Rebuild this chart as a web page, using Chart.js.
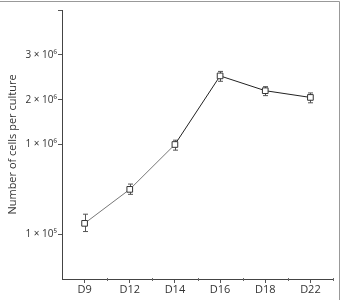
<!DOCTYPE html>
<html>
<head>
<meta charset="utf-8">
<script src="https://cdn.jsdelivr.net/npm/chart.js@4/dist/chart.umd.min.js"></script>
<style>
  html, body { margin: 0; padding: 0; background: #fff; }
  #wrap { width: 344px; height: 300px; }
</style>
</head>
<body>
<div id="wrap"><canvas id="myChart" width="344" height="300"></canvas></div>
<script>
const days = ['D9', 'D12', 'D14', 'D16', 'D18', 'D22'];
const cells = [1.32e5, 3.16e5, 1.0e6, 2.53e6, 2.2e6, 2.05e6];
const cellsLow = [1.07e5, 2.78e5, 8.65e5, 2.41e6, 2.09e6, 1.93e6];
const cellsHigh = [1.67e5, 3.62e5, 1.096e6, 2.63e6, 2.29e6, 2.15e6];
const yTickValues = [1e5, 1e6, 2e6, 3e6, 4e6];
const yTickLabels = ['1 × 10⁵', '1 × 10⁶', '2 × 10⁶', '3 × 10⁶', ''];

// axis is log between 1e5 and 1e6, then linear per million above that
const toAxis = v => v <= 1e6 ? 2 * Math.log10(v) - 6 : 6 + (v - 1e6) / 1e6;
const fromAxis = u => u <= 6 ? Math.pow(10, (u + 6) / 2) : 1e6 + (u - 6) * 1e6;

class BrokenScale extends Chart.LinearScale {
    getPixelForValue(value) {
        return super.getPixelForValue(toAxis(value));
    }
    getValueForPixel(pixel) {
        return fromAxis(super.getValueForPixel(pixel));
    }
}
BrokenScale.id = 'broken';
BrokenScale.defaults = Chart.LinearScale.defaults;
Chart.register(BrokenScale);

const extras = {
    id: 'extras',
    beforeDatasetsDraw(chart) {
        const { ctx, scales: { x, y } } = chart;
        ctx.save();
        ctx.strokeStyle = '#555';
        ctx.lineWidth = 1;
        // error bars
        cells.forEach((v, i) => {
            const px = Math.round(x.getPixelForValue(i)) + 0.5;
            const top = y.getPixelForValue(cellsHigh[i]);
            const bot = y.getPixelForValue(cellsLow[i]);
            ctx.beginPath();
            ctx.moveTo(px, top); ctx.lineTo(px, bot);
            ctx.moveTo(px - 2.5, top); ctx.lineTo(px + 2.5, top);
            ctx.moveTo(px - 2.5, bot); ctx.lineTo(px + 2.5, bot);
            ctx.stroke();
        });
        // minor ticks between categories
        const half = (x.getPixelForValue(1) - x.getPixelForValue(0)) / 2;
        ctx.strokeStyle = '#666';
        days.forEach((d, i) => {
            const px = Math.round(x.getPixelForValue(i) + half) + 0.5;
            ctx.beginPath();
            ctx.moveTo(px, y.bottom - 1); ctx.lineTo(px, y.bottom + 2);
            ctx.stroke();
        });
        // frame of the figure
        ctx.strokeStyle = '#999';
        ctx.beginPath();
        ctx.moveTo(0, 1.5); ctx.lineTo(339.5, 1.5); ctx.lineTo(339.5, 300);
        ctx.stroke();
        ctx.restore();
    }
};

const ctx = document.getElementById('myChart');

new Chart(ctx, {
    type: 'line',
    data: {
        labels: days,
        datasets: [{
            data: cells,
            borderColor: '#333',
            borderWidth: 1,
            segment: {
                borderColor: c => c.p0DataIndex < 2 ? '#777' : '#222'
            },
            pointStyle: 'rect',
            pointRadius: 4,
            pointBorderWidth: 1,
            pointBorderColor: '#333',
            pointBackgroundColor: '#fff',
            tension: 0
        }]
    },
    options: {
        responsive: false,
        animation: false,
        devicePixelRatio: 1,
        layout: { padding: { top: 10, right: 11, left: 0, bottom: 0 } },
        plugins: {
            legend: { display: false },
            tooltip: { enabled: false },
            title: { display: false }
        },
        scales: {
            x: {
                type: 'category',
                offset: true,
                afterFit: s => { s.height = 21; },
                grid: { offset: false, drawOnChartArea: false, tickLength: 4, color: '#555' },
                border: { color: '#444', width: 1 },
                ticks: {
                    padding: 0,
                    color: '#333',
                    font: { family: 'Open Sans', size: 11 }
                }
            },
            y: {
                type: 'broken',
                min: 3,
                max: 9,
                afterFit: s => { s.width = 62; },
                afterBuildTicks: s => {
                    s.ticks = yTickValues.map(v => ({ value: v }));
                },
                grid: { drawOnChartArea: false, tickLength: 4, color: '#555' },
                border: { color: '#444', width: 1 },
                ticks: {
                    padding: 1,
                    color: '#333',
                    font: { family: 'Open Sans', size: 10 },
                    callback: v => yTickLabels[yTickValues.indexOf(v)]
                },
                title: {
                    display: true,
                    text: 'Number of cells per culture',
                    color: '#333',
                    font: { family: 'Open Sans', size: 11 },
                    padding: { top: 6, bottom: 0 }
                }
            }
        }
    },
    plugins: [extras]
});
</script>
</body>
</html>
